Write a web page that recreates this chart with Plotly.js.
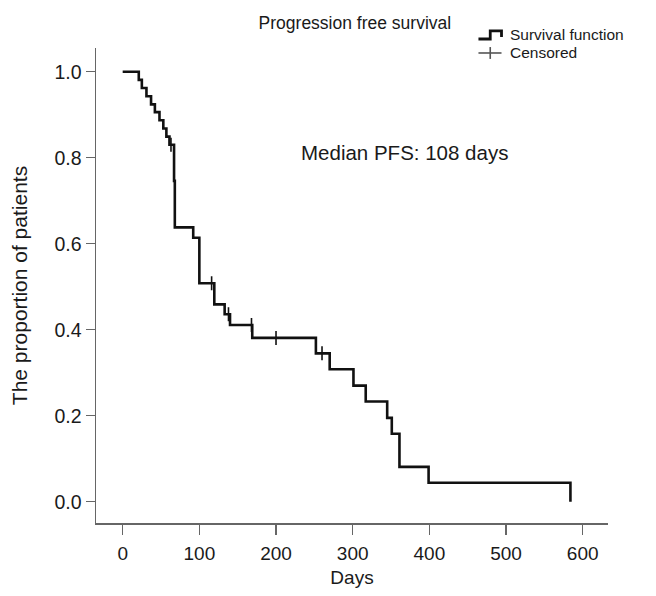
<!DOCTYPE html>
<html>
<head>
<meta charset="utf-8">
<script src="https://cdn.plot.ly/plotly-3.0.1.min.js"></script>
<style>html,body{margin:0;padding:0;background:#fff;}#chart{width:656px;height:596px;}</style>
</head>
<body>
<div id="chart"></div>
<script>
// Kaplan-Meier step data (days, survival proportion after each step)
var stepDays = [0, 21, 25, 31, 37, 42, 48, 53, 57, 61, 67, 68, 92, 100, 119.5, 133, 140, 169, 252, 270, 301, 317, 345, 351, 361, 399, 584];
var stepSurv = [1.0, 0.981, 0.962, 0.943, 0.924, 0.906, 0.887, 0.868, 0.849, 0.830, 0.746, 0.638, 0.614, 0.508, 0.459, 0.436, 0.411, 0.381, 0.345, 0.308, 0.270, 0.233, 0.195, 0.158, 0.081, 0.044, 0.0];

// Censored observations
var censorDays = [63, 116, 138, 168, 200, 260];
var censorSurv = [0.830, 0.508, 0.436, 0.411, 0.381, 0.345];

var xTicks = [0, 100, 200, 300, 400, 500, 600];
var yTicks = [0.0, 0.2, 0.4, 0.6, 0.8, 1.0];
var yTickText = ['0.0', '0.2', '0.4', '0.6', '0.8', '1.0'];

var FONT = 'Liberation Sans, Arial, sans-serif';
var TXT = '#1a1a1a';

var traces = [
  {
    x: stepDays, y: stepSurv, type: 'scatter', mode: 'lines',
    line: {shape: 'hv', color: '#111', width: 2.6},
    name: 'Survival function', showlegend: false, hoverinfo: 'skip'
  },
  {
    x: censorDays, y: censorSurv, type: 'scatter', mode: 'markers',
    marker: {symbol: 'line-ns', size: 10, line: {color: '#111', width: 1.6}},
    name: 'Censored', showlegend: false, hoverinfo: 'skip'
  }
];

var layout = {
  width: 656, height: 596,
  margin: {l: 96, r: 48, t: 48, b: 73},
  paper_bgcolor: '#fff', plot_bgcolor: '#fff',
  font: {family: FONT, size: 19, color: TXT},
  showlegend: false,
  title: {text: 'Progression free survival', x: 0.541, xanchor: 'center', y: 0.962, yanchor: 'middle', font: {family: FONT, size: 17.5, color: TXT}},
  xaxis: {
    range: [-34.8, 633], tickvals: xTicks, ticktext: xTicks.map(String),
    showgrid: false, zeroline: false, showline: true, linecolor: '#666', linewidth: 1.5,
    ticks: 'outside', ticklen: 10, tickwidth: 1.5, tickcolor: '#666',
    ticklabelstandoff: 3,
    tickfont: {family: FONT, size: 19, color: TXT},
    title: {text: 'Days', font: {family: FONT, size: 19, color: TXT}, standoff: 7}
  },
  yaxis: {
    range: [-0.0495, 1.0551], tickvals: yTicks, ticktext: yTickText,
    showgrid: false, zeroline: false, showline: true, linecolor: '#666', linewidth: 1.5,
    ticks: 'outside', ticklen: 9, tickwidth: 1.5, tickcolor: '#666',
    tickfont: {family: FONT, size: 19.5, color: TXT},
    title: {text: 'The proportion of patients', font: {family: FONT, size: 21, color: TXT}, standoff: 21}
  },
  annotations: [
    {text: 'Median PFS: 108 days', xref: 'x', yref: 'y', x: 368, y: 0.811, showarrow: false,
     font: {family: FONT, size: 20.5, color: TXT}, xanchor: 'center', yanchor: 'middle'},
    {text: 'Survival function', xref: 'paper', yref: 'paper', x: 0.807, y: 1.0274, showarrow: false,
     font: {family: FONT, size: 15.5, color: TXT}, xanchor: 'left', yanchor: 'middle', borderpad: 0},
    {text: 'Censored', xref: 'paper', yref: 'paper', x: 0.807, y: 0.9895, showarrow: false,
     font: {family: FONT, size: 15.5, color: TXT}, xanchor: 'left', yanchor: 'middle', borderpad: 0}
  ],
  shapes: [
    // legend icon: step line
    {type: 'path', xref: 'paper', yref: 'paper',
     path: 'M 0.747 1.019 L 0.770 1.019 L 0.770 1.036 L 0.792 1.036 L 0.792 1.023',
     line: {color: '#111', width: 2.8}},
    // legend icon: censored cross
    {type: 'line', xref: 'paper', yref: 'paper', x0: 0.747, x1: 0.792, y0: 0.9895, y1: 0.9895,
     line: {color: '#555', width: 1.6}},
    {type: 'line', xref: 'paper', yref: 'paper', x0: 0.770, x1: 0.770, y0: 0.977, y1: 1.002,
     line: {color: '#555', width: 1.6}}
  ]
};

Plotly.newPlot('chart', traces, layout, {displayModeBar: false, staticPlot: true});
</script>
</body>
</html>
